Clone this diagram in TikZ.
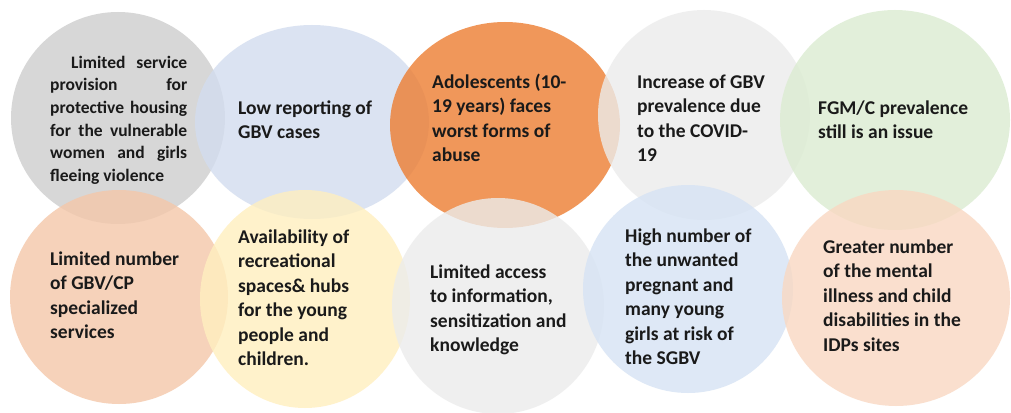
\documentclass[tikz,border=0pt]{standalone}
\usepackage{fontspec}
\setmainfont{Carlito}
\usetikzlibrary{shapes.geometric}

% bubble fills (drawn at 80% opacity)
\definecolor{cgrayA}{RGB}{206,206,206}
\definecolor{cblueA}{RGB}{211,221,239}
\definecolor{corange}{RGB}{237,125,49}
\definecolor{cgrayB}{RGB}{236,236,236}
\definecolor{cgreen}{RGB}{219,236,209}
\definecolor{cpeachA}{RGB}{244,199,169}
\definecolor{cyellow}{RGB}{255,239,191}
\definecolor{cgrayC}{RGB}{236,236,236}
\definecolor{cblueB}{RGB}{214,227,244}
\definecolor{cpeachB}{RGB}{249,216,194}
\definecolor{txtcol}{RGB}{26,26,26}

\tikzset{
  bubble/.style={ellipse, draw=none, inner sep=0pt, fill opacity=0.8},
  txt/.style={anchor=north west, inner sep=0pt, align=left, text=txtcol,
    font=\bfseries\fontsize{19.5}{24.5}\selectfont},
  smalltxt/.style={anchor=north west, inner sep=0pt, text width=137pt,
    align=justify, text=txtcol,
    font=\bfseries\fontsize{17.5}{22.7}\selectfont},
}

\begin{document}
\begin{tikzpicture}[x=1pt,y=-1pt]
\useasboundingbox (0,0) rectangle (1011,412);
\fill[white] (0,0) rectangle (1011,412);

% upper row
\node[bubble, fill=cgrayA,  minimum width=214pt, minimum height=212pt] (b1) at (118,118) {};
\node[bubble, fill=cblueA,  minimum width=234pt, minimum height=194pt] (b2) at (312,122) {};
\node[bubble, fill=corange, minimum width=230pt, minimum height=206pt] (b3) at (505,125) {};
\node[bubble, fill=cgrayB,  minimum width=212pt, minimum height=210pt] (b4) at (704,115) {};
\node[bubble, fill=cgreen,  minimum width=230pt, minimum height=220pt] (b5) at (895,120) {};
% lower row
\node[bubble, fill=cpeachA, minimum width=218pt, minimum height=214pt] (b6) at (119,297) {};
\node[bubble, fill=cyellow, minimum width=210pt, minimum height=218pt] (b7) at (305,299) {};
\node[bubble, fill=cgrayC,  minimum width=212pt, minimum height=216pt] (b8) at (498,306) {};
\node[bubble, fill=cblueB,  minimum width=210pt, minimum height=208pt] (b9) at (688,289) {};
\node[bubble, fill=cpeachB, minimum width=228pt, minimum height=216pt] (b10) at (896,298) {};

% texts
\node[smalltxt] (t1) at (50,52.1) {\strut\hspace*{21pt}Limited service\linebreak provision for\linebreak protective housing\linebreak for the vulnerable\linebreak women and girls\linebreak fleeing violence};
\node[txt] (t2) at (238,96.85) {\strut Low reporting of\\GBV cases};
\node[txt] (t3) at (432,70.85) {\strut Adolescents (10-\\19 years) faces\\worst forms of\\abuse};
\node[txt] (t4) at (637,70.85) {\strut Increase of GBV\\prevalence due\\to the COVID-\\19};
\node[txt] (t5) at (818,96.85) {\strut FGM/C prevalence\\still is an issue};
\node[txt] (t6) at (50,247.85) {\strut Limited number\\of GBV/CP\\specialized\\services};
\node[txt] (t7) at (238,225.85) {\strut Availability of\\recreational\\spaces\& hubs\\for the young\\people and\\children.};
\node[txt] (t8) at (430,260.85) {\strut Limited access\\to information,\\sensitization and\\knowledge};
\node[txt] (t9) at (625,224.85) {\strut High number of\\the unwanted\\pregnant and\\many young\\girls at risk of\\the SGBV};
\node[txt] (t10) at (823,235.85) {\strut Greater number\\of the mental\\illness and child\\disabilities in the\\IDPs sites};
\end{tikzpicture}
\end{document}
